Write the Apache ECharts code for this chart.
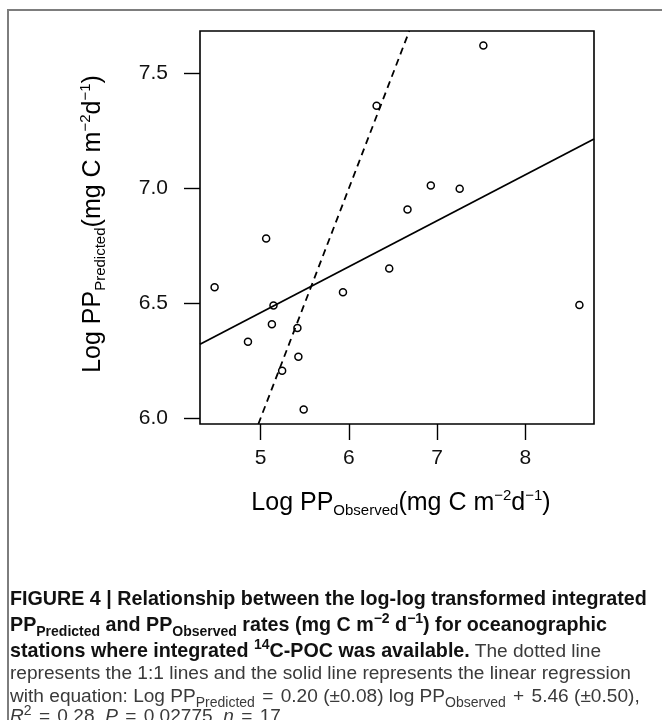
<!DOCTYPE html>
<html><head><meta charset="utf-8">
<script src="https://cdn.jsdelivr.net/npm/echarts@6/dist/echarts.min.js"></script>
<style>
html,body{margin:0;padding:0;background:#fff;}
#wrap{position:relative;width:662px;height:720px;overflow:hidden;background:#fff;}
#chart{position:absolute;left:0;top:0;width:662px;height:720px;}
#frame{position:absolute;left:7px;top:9px;width:680px;height:740px;border-left:2px solid #7d7d7d;border-top:2px solid #7d7d7d;pointer-events:none;}
.cap{position:absolute;left:10px;white-space:nowrap;font-family:"Liberation Sans Narrow","Liberation Sans",sans-serif;font-size:19.1px;line-height:24px;color:#3a3a3a;}
.cap b{color:#111;font-size:19.7px;}
.cap sub,.cap sup{font-size:14px;line-height:0;}
.cap .eq sub{font-size:15px;}
.cap .op{padding:0 2px;}
</style></head>
<body><div id="wrap"><div id="chart"></div><div id="frame"></div>
<div class="cap" style="top:586px"><b>FIGURE 4 | Relationship between the log-log transformed integrated</b></div>
<div class="cap" style="top:612px"><b>PP<sub>Predicted</sub> and PP<sub>Observed</sub> rates (mg C m<sup>−2</sup> d<sup>−1</sup>) for oceanographic</b></div>
<div class="cap" style="top:638px"><b>stations where integrated <sup>14</sup>C-POC was available.</b> The dotted line</div>
<div class="cap" style="top:661px">represents the 1:1 lines and the solid line represents the linear regression</div>
<div class="cap eq" style="top:684px">with equation: Log PP<sub>Predicted</sub> <span class="op">=</span> 0.20 (±0.08) log PP<sub>Observed</sub> <span class="op">+</span> 5.46 (±0.50),</div>
<div class="cap" style="top:704px"><i>R</i><sup>2</sup> <span class="op">=</span> 0.28, <i>P</i> <span class="op">=</span> 0.02775, <i>n</i> <span class="op">=</span> 17.</div>
</div>
<script>
const observed  = [4.48, 5.064, 4.858, 5.147, 5.129, 5.245, 5.418, 5.429, 5.489, 5.934, 6.315, 6.458, 6.665, 6.929, 7.256, 7.524, 8.612];
const predicted = [6.571, 6.783, 6.333, 6.491, 6.41, 6.207, 6.393, 6.268, 6.039, 6.549, 7.36, 6.652, 6.909, 7.013, 6.999, 7.622, 6.493];
const xTicks = [5, 6, 7, 8];
const yTicks = [6.0, 6.5, 7.0, 7.5];
const regSlope = 0.20, regIntercept = 5.46;
const oneToOneOffset = 1;

function padRange(arr){const lo=Math.min(...arr),hi=Math.max(...arr),d=(hi-lo)*0.04;return [lo-d,hi+d];}
const [xMin,xMax]=padRange(observed);
const [yMin,yMax]=padRange(predicted);

const FONT='"Liberation Sans", Arial, sans-serif';
const points = observed.map((x,i)=>[x,predicted[i]]);
const regLine = [[xMin, regSlope*xMin+regIntercept],[xMax, regSlope*xMax+regIntercept]];
const oneLine = [[yMin-oneToOneOffset, yMin],[yMax-oneToOneOffset, yMax]];

const rich = {
  n:{fontSize:25,fontFamily:FONT,lineHeight:30,verticalAlign:'middle',color:'#111'},
  sb:{fontSize:15,fontFamily:FONT,lineHeight:10,verticalAlign:'bottom',color:'#111'},
  sp:{fontSize:15,fontFamily:FONT,lineHeight:14,verticalAlign:'top',color:'#111'}
};

const chart = echarts.init(document.getElementById('chart'),null,{renderer:'canvas'});
chart.setOption({
  animation:false,
  backgroundColor:'#fff',
  grid:{left:200,top:31,width:394,height:393,show:true,borderColor:'#000',borderWidth:1.6,containLabel:false,backgroundColor:'transparent'},
  xAxis:{type:'value',min:xMin,max:xMax,
    axisLine:{show:false},splitLine:{show:false},
    axisTick:{show:true,inside:false,length:16,lineStyle:{color:'#000',width:1.4},customValues:xTicks},
    axisLabel:{customValues:xTicks,margin:24,fontSize:21,color:'#111',fontFamily:FONT,formatter:v=>String(v)}},
  yAxis:{type:'value',min:yMin,max:yMax,
    axisLine:{show:false},splitLine:{show:false},
    axisTick:{show:true,inside:false,length:16,lineStyle:{color:'#000',width:1.4},customValues:yTicks},
    axisLabel:{customValues:yTicks,margin:32,fontSize:21,color:'#111',fontFamily:FONT,formatter:v=>v.toFixed(1)}},
  graphic:[
    {type:'text',x:401,y:503,style:{text:'{n|Log PP}{sb|Observed}{n|(mg C m}{sp|−2}{n|d}{sp|−1}{n|)}',rich:rich,align:'center',verticalAlign:'middle'}},
    {type:'text',x:93,y:224,rotation:Math.PI/2,style:{text:'{n|Log PP}{sb|Predicted}{n|(mg C m}{sp|−2}{n|d}{sp|−1}{n|)}',rich:rich,align:'center',verticalAlign:'middle'}}
  ],
  series:[
    {type:'line',data:oneLine,symbol:'none',clip:true,lineStyle:{color:'#000',width:1.8,type:[7,5]},z:2,silent:true},
    {type:'line',data:regLine,symbol:'none',clip:true,lineStyle:{color:'#000',width:1.8},z:2,silent:true},
    {type:'scatter',data:points,symbol:'circle',symbolSize:7,itemStyle:{color:'rgba(0,0,0,0)',borderColor:'#000',borderWidth:1.5,opacity:1},z:3,silent:true}
  ]
});
</script></body></html>
